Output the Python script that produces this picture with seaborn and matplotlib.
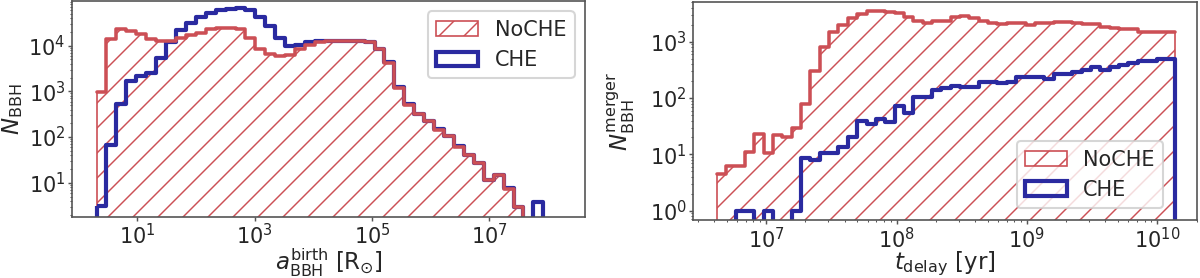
import numpy as np
import matplotlib
matplotlib.use("Agg")
import matplotlib.pyplot as plt
import matplotlib.ticker as mticker
import seaborn as sns

# -----------------------------
# 1. Data
# -----------------------------
# left panel: separation at birth, log-spaced bins (range in log10 R_sun)
a_log_range = (0.305, 7.92)
a_nbins = 45
a_noche = [960, 14200, 22700, 20900, 18300, 14200, 12700, 12700, 14900, 16800,
           19300, 22700, 24500, 24500, 22700, 14400, 8450, 6600, 6000, 6250,
           8450, 10300, 11900, 12350, 12700, 12700, 12450, 12000, 8350, 4200,
           1210, 510, 315, 220, 144, 103, 62, 40.5, 26.5, 11.6,
           14.8, 7.3, 3.0, 0, 0]
a_che = [3.1, 68, 520, 1680, 2130, 2470, 5320, 12000, 21600, 31500,
         42000, 52800, 58800, 64700, 65900, 58800, 43300, 26800, 15000, 9700,
         10400, 12100, 12450, 12700, 12900, 12700, 12450, 12100, 8450, 4300,
         1230, 520, 320, 225, 147, 104, 63, 41.5, 27.6, 11.6,
         14.8, 7.6, 3.0, 0, 3.85]

# right panel: delay time, log-spaced bins (range in log10 yr)
t_log_range = (6.622, 10.137)
t_nbins = 49
t_noche = [4.4, 6.3, 6.3, 11.2, 23.5, 10.5, 22, 20.7, 29, 78,
           307, 815, 1508, 1977, 2625, 3128, 3463, 3463, 3351, 3295,
           2725, 2379, 2189, 2323, 2379, 2725, 2871, 2614, 2379, 2189,
           2066, 2133, 2133, 1988, 2189, 2133, 2290, 2290, 2189, 2066,
           2066, 1854, 1731, 1653, 1653, 1508, 1508, 1508, 1508]
t_che = [0, 0, 1, 1, 0, 1, 0, 0, 1, 8.7,
         7.8, 10.7, 10.7, 13.7, 20.7, 39, 34.6, 42.4, 38, 72.6,
         53.6, 102.8, 102.8, 139.6, 153, 164, 155, 155, 195.5, 195.5,
         187.7, 195.5, 240, 234.6, 234.6, 215.6, 268, 268, 296, 316,
         363, 316, 363, 387.6, 416.6, 446.8, 446.8, 491.5, 491.5]

RED = "#cc4f55"
BLUE = "#2a2aa0"

# -----------------------------
# 2. Style
# -----------------------------
sns.set_style("ticks")
plt.rcParams["font.family"] = ["DejaVu Sans"]
plt.rcParams["font.size"] = 10
plt.rcParams["hatch.linewidth"] = 0.7
plt.rcParams["axes.edgecolor"] = "#555555"
plt.rcParams["axes.linewidth"] = 0.8


def bin_centers(log_range, nbins):
    edges = np.logspace(log_range[0], log_range[1], nbins + 1)
    return np.sqrt(edges[:-1] * edges[1:])


def draw_panel(ax, log_range, nbins, noche, che):
    x = bin_centers(log_range, nbins)
    common = dict(x=x, bins=nbins, binrange=log_range, log_scale=True,
                  element="step", ax=ax)
    # hatched NoCHE area with thin outline
    sns.histplot(weights=noche, fill=True, color=RED, facecolor="none",
                 edgecolor=RED, linewidth=0.8, hatch="//", label="NoCHE",
                 **common)
    # thick NoCHE top line
    sns.histplot(weights=noche, fill=False, color=RED, linewidth=1.7, **common)
    # CHE outline
    sns.histplot(weights=che, fill=True, color=BLUE, facecolor="none",
                 edgecolor=BLUE, linewidth=2.0, label="CHE", **common)
    ax.set_yscale("log")
    ax.tick_params(which="major", length=2.0, width=0.7, pad=1.2,
                   labelsize=10, color="#555555")
    ax.tick_params(which="minor", length=1.0, width=0.5, color="#555555")


fig = plt.figure(figsize=(8, 278 / 150), dpi=150)
ax1 = fig.add_axes([0.06, 0.2205, 0.4275, 0.776])
ax2 = fig.add_axes([0.5778, 0.2086, 0.4198, 0.7853])

# -----------------------------
# 3. Left panel
# -----------------------------
draw_panel(ax1, a_log_range, a_nbins, a_noche, a_che)
ax1.set_xlim(10 ** -0.113, 10 ** 8.63)
ax1.set_ylim(1.81, 9.5e4)
ax1.set_xticks([1e1, 1e3, 1e5, 1e7])
ax1.xaxis.set_minor_locator(mticker.NullLocator())
ax1.set_xlabel(r"$a_{\rm BBH}^{\rm birth}$ [R$_{\odot}$]", fontsize=11)
ax1.set_ylabel(r"$N_{\rm BBH}$", fontsize=11)
ax1.xaxis.set_label_coords(0.5, -0.14)
ax1.yaxis.set_label_coords(-0.092, 0.5)
ax1.legend(loc="upper right", fontsize=10)

# -----------------------------
# 4. Right panel
# -----------------------------
draw_panel(ax2, t_log_range, t_nbins, t_noche, t_che)
ax2.set_xlim(10 ** 6.442, 10 ** 10.305)
ax2.set_ylim(0.684, 5150)
ax2.set_xlabel(r"$t_{\rm delay}$ [yr]", fontsize=11)
ax2.set_ylabel(r"$N_{\rm BBH}^{\rm merger}$", fontsize=11)
ax2.xaxis.set_label_coords(0.5, -0.135)
ax2.yaxis.set_label_coords(-0.112, 0.5)
ax2.legend(loc="lower right", bbox_to_anchor=(0.9325, 0.0536),
           borderaxespad=0, fontsize=10)

fig.savefig("out.png", dpi=150)
